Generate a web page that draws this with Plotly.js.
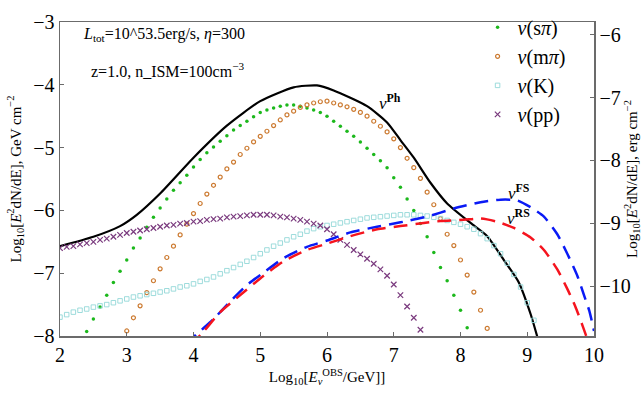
<!DOCTYPE html>
<html>
<head>
<meta charset="utf-8">
<script src="https://cdn.plot.ly/plotly-3.0.1.min.js"></script>
<style>html,body{margin:0;padding:0;background:#fff;}#plot{width:642px;height:393px;}</style>
</head>
<body>
<div id="plot"></div>
<script>
// ---- data (log10 E [GeV], log10 E^2 dN/dE [GeV cm^-2]) ----
const phX = [2.0,2.5,2.9,3.15,3.5,4.0,4.5,5.0,5.5,5.85,6.1,6.6,6.9,7.1,7.3,7.55,7.8,8.15,8.4,8.65,8.87,9.05,9.15,9.25];
const phY = [-6.57,-6.42,-6.25,-6.07,-5.73,-5.16,-4.65,-4.26,-4.04,-4.01,-4.09,-4.34,-4.6,-4.88,-5.16,-5.56,-5.89,-6.2,-6.41,-6.79,-7.14,-7.65,-8.01,-8.4];

const spiX = [2.4,2.5,2.6,2.7,2.8,2.9,3.0,3.1,3.2,3.3,3.4,3.5,3.6,3.7,3.8,3.9,4.0,4.1,4.2,4.3,4.4,4.5,4.6,4.7,4.8,4.9,5.0,5.1,5.2,5.3,5.4,5.5,5.6,5.7,5.8,5.9,6.0,6.1,6.2,6.3,6.4,6.5,6.6,6.7,6.8,6.9,7.0,7.1,7.2,7.3,7.4,7.5,7.6,7.7,7.8,7.9,8.0,8.1];
const spiY = [-7.93,-7.73,-7.54,-7.35,-7.15,-6.97,-6.79,-6.60,-6.44,-6.27,-6.11,-5.96,-5.82,-5.68,-5.56,-5.44,-5.31,-5.19,-5.08,-4.99,-4.90,-4.81,-4.72,-4.65,-4.58,-4.51,-4.44,-4.40,-4.37,-4.34,-4.32,-4.32,-4.34,-4.37,-4.40,-4.44,-4.50,-4.58,-4.66,-4.74,-4.82,-4.91,-5.01,-5.11,-5.21,-5.32,-5.48,-5.63,-5.82,-6.00,-6.21,-6.42,-6.67,-6.91,-7.12,-7.35,-7.59,-7.87];

const mpiX = [3.0,3.1,3.2,3.3,3.4,3.5,3.6,3.7,3.8,3.9,4.0,4.1,4.2,4.3,4.4,4.5,4.6,4.7,4.8,4.9,5.0,5.1,5.2,5.3,5.4,5.5,5.6,5.7,5.8,5.9,6.0,6.1,6.2,6.3,6.4,6.5,6.6,6.7,6.8,6.9,7.0,7.1,7.2,7.3,7.4,7.5,7.6,7.7,7.8,7.9,8.0,8.1,8.2,8.3,8.4];
const mpiY = [-7.92,-7.71,-7.52,-7.31,-7.12,-6.93,-6.75,-6.57,-6.39,-6.22,-6.05,-5.89,-5.74,-5.60,-5.47,-5.34,-5.23,-5.11,-5.01,-4.91,-4.82,-4.74,-4.65,-4.56,-4.48,-4.42,-4.36,-4.32,-4.29,-4.27,-4.26,-4.29,-4.32,-4.35,-4.39,-4.44,-4.50,-4.58,-4.66,-4.75,-4.86,-5.00,-5.17,-5.32,-5.49,-5.71,-5.91,-6.13,-6.38,-6.56,-6.79,-7.03,-7.30,-7.59,-7.88];

const kX = [2.0,2.1,2.2,2.3,2.4,2.5,2.6,2.7,2.8,2.9,3.0,3.1,3.2,3.3,3.4,3.5,3.6,3.7,3.8,3.9,4.0,4.1,4.2,4.3,4.4,4.5,4.6,4.7,4.8,4.9,5.0,5.1,5.2,5.3,5.4,5.5,5.6,5.7,5.8,5.9,6.0,6.1,6.2,6.3,6.4,6.5,6.6,6.7,6.8,6.9,7.0,7.1,7.2,7.3,7.4,7.5,7.6,7.7,7.8,7.9,8.0,8.1,8.2,8.3,8.4,8.5,8.6,8.7,8.8,8.9,9.0,9.1];
const kY = [-7.70,-7.66,-7.62,-7.59,-7.57,-7.54,-7.52,-7.50,-7.47,-7.44,-7.41,-7.38,-7.36,-7.34,-7.32,-7.30,-7.28,-7.25,-7.22,-7.20,-7.17,-7.13,-7.10,-7.06,-7.01,-6.96,-6.91,-6.86,-6.81,-6.75,-6.69,-6.63,-6.57,-6.52,-6.47,-6.42,-6.38,-6.33,-6.29,-6.26,-6.24,-6.22,-6.20,-6.18,-6.16,-6.14,-6.12,-6.11,-6.10,-6.09,-6.08,-6.07,-6.07,-6.07,-6.08,-6.09,-6.11,-6.13,-6.16,-6.19,-6.22,-6.26,-6.30,-6.37,-6.45,-6.56,-6.69,-6.84,-7.02,-7.22,-7.47,-7.75];

const ppX = [2.0,2.1,2.2,2.3,2.4,2.5,2.6,2.7,2.8,2.9,3.0,3.1,3.2,3.3,3.4,3.5,3.6,3.7,3.8,3.9,4.0,4.1,4.2,4.3,4.4,4.5,4.6,4.7,4.8,4.9,5.0,5.1,5.2,5.3,5.4,5.5,5.6,5.7,5.8,5.9,6.0,6.1,6.2,6.3,6.4,6.5,6.6,6.7,6.8,6.9,7.0,7.1,7.2,7.3,7.4];
const ppY = [-6.60,-6.58,-6.57,-6.54,-6.52,-6.50,-6.47,-6.45,-6.42,-6.39,-6.36,-6.34,-6.32,-6.30,-6.28,-6.26,-6.24,-6.23,-6.21,-6.20,-6.18,-6.17,-6.15,-6.14,-6.13,-6.11,-6.10,-6.09,-6.08,-6.07,-6.07,-6.07,-6.08,-6.10,-6.11,-6.13,-6.15,-6.18,-6.21,-6.24,-6.30,-6.38,-6.47,-6.55,-6.63,-6.70,-6.77,-6.85,-6.94,-7.04,-7.18,-7.35,-7.53,-7.71,-7.90];

const fsX = [3.9,4.0,4.3,4.55,4.8,5.05,5.35,5.7,6.0,6.35,6.75,7.1,7.5,7.9,8.3,8.6,8.85,9.05,9.25,9.45,9.6,9.75,9.85,9.93,10.0];
const fsY = [-8.15,-8.02,-7.73,-7.45,-7.19,-6.99,-6.76,-6.58,-6.48,-6.35,-6.26,-6.19,-6.10,-5.97,-5.87,-5.83,-5.84,-5.95,-6.10,-6.38,-6.69,-7.04,-7.35,-7.60,-7.92];

const rsX = [3.95,4.15,4.4,4.71,5.05,5.35,5.7,6.0,6.35,6.75,7.1,7.45,7.7,8.05,8.3,8.55,8.8,9.05,9.25,9.45,9.6,9.72,9.82,9.9];
const rsY = [-8.15,-7.93,-7.62,-7.34,-7.04,-6.81,-6.63,-6.53,-6.41,-6.30,-6.25,-6.20,-6.17,-6.15,-6.13,-6.18,-6.28,-6.43,-6.63,-6.94,-7.25,-7.53,-7.81,-8.05];

const xTicks = [2,3,4,5,6,7,8,9,10];
const yTicks = [-3,-4,-5,-6,-7,-8];
const y2Ticks = [-6,-7,-8,-9,-10];
const gevToErg = -2.795; // log10(1.602e-3)

const serif = "'Times New Roman', Times, 'Liberation Serif', 'DejaVu Serif', serif";
const axisCol = "#6b6b6b";

const traces = [
  {x: phX, y: phY, mode: "lines", line: {color: "#000", width: 2.2, shape: "spline", smoothing: 0.6}, showlegend: false, hoverinfo: "skip"},
  {x: spiX, y: spiY, mode: "markers", name: "<i>ν</i>(s<i>π</i>)", marker: {symbol: "circle", size: 3.5, color: "#1cb81c"}},
  {x: mpiX, y: mpiY, mode: "markers", name: "<i>ν</i>(m<i>π</i>)", marker: {symbol: "circle-open", size: 4, color: "#cc7a30", line: {width: 1.2, color: "#cc7a30"}}},
  {x: kX, y: kY, mode: "markers", name: "<i>ν</i>(K)", marker: {symbol: "square-open", size: 4.5, color: "#93d8d8", line: {width: 0.9, color: "#93d8d8"}}},
  {x: ppX, y: ppY, mode: "markers", name: "<i>ν</i>(pp)", marker: {symbol: "x-thin-open", size: 5.5, color: "#7a3a7e", line: {width: 1.2, color: "#7a3a7e"}}},
  {x: fsX, y: fsY, mode: "lines", line: {color: "#0a1af5", width: 2.5, dash: "14px,8px", shape: "spline", smoothing: 0.6}, showlegend: false},
  {x: rsX, y: rsY, mode: "lines", line: {color: "#f5141e", width: 2.5, dash: "14px,8px", shape: "spline", smoothing: 0.6}, showlegend: false},
  {x: [], y: [], yaxis: "y2", mode: "lines", showlegend: false, hoverinfo: "skip"}
];

const layout = {
  width: 642, height: 393,
  margin: {l: 60, r: 48, t: 8, b: 57},
  paper_bgcolor: "#fff", plot_bgcolor: "#fff",
  font: {family: serif, color: "#000", size: 18},
  showlegend: true,
  legend: {x: 0.782, y: 1.045, xanchor: "left", yanchor: "top", bgcolor: "rgba(0,0,0,0)",
           font: {family: serif, size: 20, color: "#000"}, itemwidth: 30, tracegroupgap: 0},
  xaxis: {range: [2, 10], tickvals: xTicks, ticks: "inside", ticklen: 4, tickcolor: axisCol,
          showline: true, linecolor: axisCol, linewidth: 1.5, mirror: true, showgrid: false, zeroline: false,
          tickfont: {family: serif, size: 20},
          title: {text: "Log<sub>10</sub>[<i>E</i><sub><i>ν</i></sub><sup>OBS</sup>/GeV]]", font: {family: serif, size: 15}, standoff: 7}},
  yaxis: {range: [-8.0001, -2.9999], tickvals: yTicks, ticks: "inside", ticklen: 4, tickcolor: axisCol,
          showline: true, linecolor: axisCol, linewidth: 1.5, mirror: true, showgrid: false, zeroline: false,
          tickfont: {family: serif, size: 20},
          title: {text: "Log<sub>10</sub>[<i>E</i><sup>2</sup>dN/dE], GeV cm<sup>−2</sup>", font: {family: serif, size: 15}, standoff: 8}},
  yaxis2: {overlaying: "y", side: "right", range: [-8.0001 + gevToErg, -2.9999 + gevToErg], tickvals: y2Ticks,
           ticks: "inside", ticklen: 4, tickcolor: axisCol, showline: true, linecolor: axisCol, linewidth: 1.5,
           showgrid: false, zeroline: false, tickfont: {family: serif, size: 20},
           title: {text: "Log<sub>10</sub>[<i>E</i><sup>2</sup>dN/dE], erg cm<sup>−2</sup>", font: {family: serif, size: 15}, standoff: 17}},
  annotations: [
    {x: 2.31, y: -3.20, xref: "x", yref: "y", xanchor: "left", yanchor: "middle", showarrow: false,
     text: "<i>L</i><sub>tot</sub>=10^53.5erg/s, <i>η</i>=300", font: {family: serif, size: 16}},
    {x: 2.43, y: -3.76, xref: "x", yref: "y", xanchor: "left", yanchor: "middle", showarrow: false,
     text: "z=1.0, n_ISM=100cm<sup>−3</sup>", font: {family: serif, size: 16}},
    {x: 6.95, y: -4.28, xref: "x", yref: "y", showarrow: false,
     text: "<i>ν</i><sup><b>Ph</b></sup>", font: {family: serif, size: 17}},
    {x: 8.87, y: -5.71, xref: "x", yref: "y", showarrow: false,
     text: "<i>ν</i><sup><b>FS</b></sup>", font: {family: serif, size: 17}},
    {x: 8.87, y: -6.11, xref: "x", yref: "y", showarrow: false,
     text: "<i>ν</i><sup><b>RS</b></sup>", font: {family: serif, size: 17}}
  ]
};

Plotly.newPlot("plot", traces, layout, {displayModeBar: false, staticPlot: true});
</script>
</body>
</html>
